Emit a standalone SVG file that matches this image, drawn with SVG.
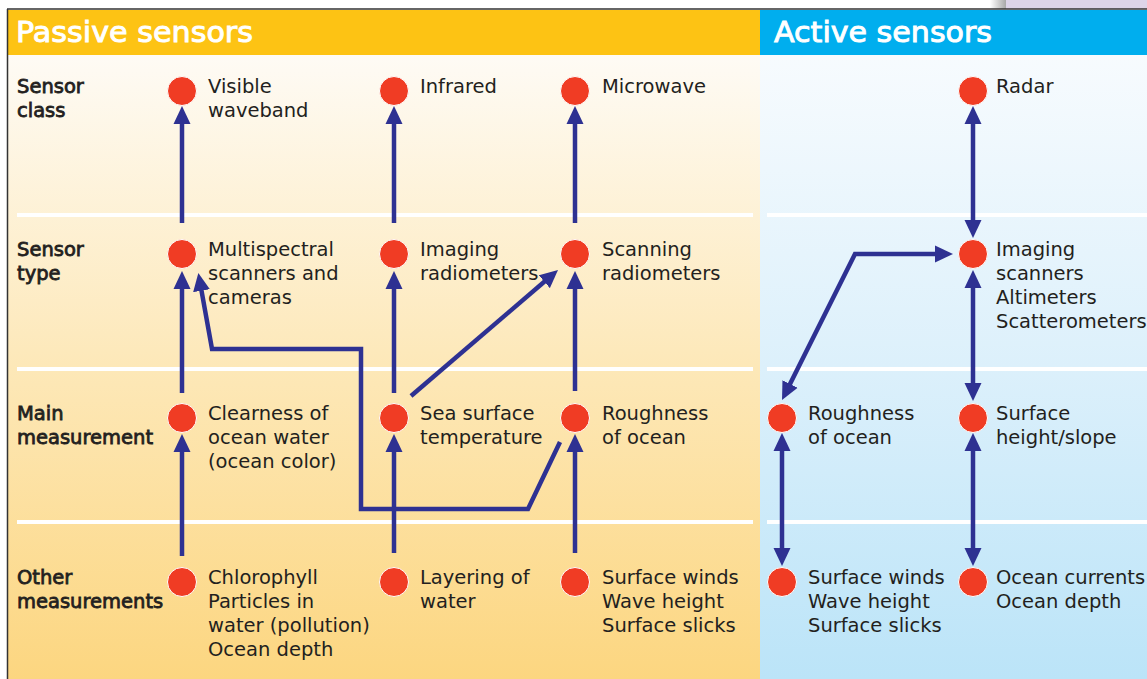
<svg xmlns="http://www.w3.org/2000/svg" width="1147" height="679" viewBox="0 0 1147 679">
<defs>
<linearGradient id="gp" x1="0" y1="0" x2="0" y2="1">
<stop offset="0" stop-color="#fefbf5"/>
<stop offset="0.5" stop-color="#fde8b8"/>
<stop offset="1" stop-color="#fcd680"/>
</linearGradient>
<linearGradient id="ga" x1="0" y1="0" x2="0" y2="1">
<stop offset="0" stop-color="#f7fbfe"/>
<stop offset="0.5" stop-color="#dcf0fb"/>
<stop offset="1" stop-color="#bbe4f8"/>
</linearGradient>
<linearGradient id="gg" x1="0" y1="0" x2="1" y2="0">
<stop offset="0" stop-color="#ffffff"/>
<stop offset="1" stop-color="#a8a8a8"/>
</linearGradient>
<marker id="ah" markerUnits="userSpaceOnUse" markerWidth="18" markerHeight="18" viewBox="0 0 18 18" refX="8" refY="9" orient="auto-start-reverse">
<path d="M0,0.5 L18,9 L0,17.5 z" fill="#2e3192"/>
</marker>
<style>
.t{font-family:"DejaVu Sans",Verdana,sans-serif;font-size:19.5px;fill:#231f20}
.rl{font-family:"DejaVu Sans",Verdana,sans-serif;font-size:19.5px;fill:#231f20;stroke:#231f20;stroke-width:0.8}
.h{font-family:"DejaVu Sans",Verdana,sans-serif;font-size:28px;fill:#ffffff;stroke:#ffffff;stroke-width:0.9}
.c{fill:#f03c24;stroke:#ffffff;stroke-width:1}
.sep{stroke:#ffffff;stroke-width:4}
.ln{fill:none;stroke:#2e3192;stroke-width:4.5;stroke-linejoin:miter}
.ar{marker-end:url(#ah)}
.ar2{marker-start:url(#ah);marker-end:url(#ah)}
</style>
</defs>
<rect x="0" y="0" width="1147" height="679" fill="#ffffff"/>
<rect x="990" y="0" width="16" height="9" fill="url(#gg)"/>
<rect x="1006" y="0" width="141" height="9" fill="#ddd4e8"/>
<g id="background">
<rect x="8" y="55" width="752" height="624" fill="url(#gp)"/>
<rect x="760" y="55" width="387" height="624" fill="url(#ga)"/>
<rect x="8" y="10" width="752" height="45" fill="#fdc314"/>
<rect x="760" y="10" width="387" height="45" fill="#00aeee"/>
<line x1="7" y1="9" x2="1147" y2="9" stroke="#333333" stroke-width="1.5"/>
<line x1="7.5" y1="9" x2="7.5" y2="679" stroke="#333333" stroke-width="1.5"/>
<text class="h" x="16" y="42" textLength="237" lengthAdjust="spacingAndGlyphs">Passive sensors</text>
<text class="h" x="774" y="42" textLength="218" lengthAdjust="spacingAndGlyphs">Active sensors</text>
<line class="sep" x1="17" y1="215" x2="753" y2="215"/>
<line class="sep" x1="17" y1="369" x2="753" y2="369"/>
<line class="sep" x1="17" y1="522" x2="753" y2="522"/>
<line class="sep" x1="767" y1="215" x2="1147" y2="215"/>
<line class="sep" x1="767" y1="369" x2="1147" y2="369"/>
<line class="sep" x1="767" y1="522" x2="1147" y2="522"/>
</g>
<g id="row-labels">
<text class="rl" x="17" y="93">Sensor<tspan x="17" dy="24">class</tspan></text>
<text class="rl" x="17" y="256">Sensor<tspan x="17" dy="24">type</tspan></text>
<text class="rl" x="17" y="420">Main<tspan x="17" dy="24">measurement</tspan></text>
<text class="rl" x="17" y="584">Other<tspan x="17" dy="24">measurements</tspan></text>
</g>
<g id="connectors">
<line class="ln ar" x1="182" y1="223" x2="182" y2="116"/>
<line class="ln ar" x1="394" y1="223" x2="394" y2="116"/>
<line class="ln ar" x1="575" y1="223" x2="575" y2="116"/>
<line class="ln ar" x1="182" y1="393" x2="182" y2="281"/>
<line class="ln ar" x1="394" y1="393" x2="394" y2="281"/>
<line class="ln ar" x1="575" y1="391" x2="575" y2="281"/>
<line class="ln ar" x1="182" y1="556" x2="182" y2="444"/>
<line class="ln ar" x1="394" y1="553" x2="394" y2="444"/>
<line class="ln ar" x1="575" y1="553" x2="575" y2="444"/>
<line class="ln ar" x1="411" y1="396" x2="550.4" y2="276.5"/>
<polyline class="ln ar" points="560,442 528,509 361,509 361,349 212,349 200.1,282.8"/>
<line class="ln ar2" x1="973" y1="116" x2="973" y2="228"/>
<line class="ln ar2" x1="973" y1="280" x2="973" y2="391"/>
<polyline class="ln ar2" points="786.5,391.1 855,254 943,254"/>
<line class="ln ar2" x1="782" y1="443" x2="782" y2="556"/>
<line class="ln ar2" x1="973" y1="443" x2="973" y2="556"/>
</g>
<g id="n-visible"><circle class="c" cx="182" cy="91" r="14.5"/><text class="t" x="208" y="93">Visible<tspan x="208" dy="24">waveband</tspan></text></g>
<g id="n-infrared"><circle class="c" cx="394" cy="91" r="14.5"/><text class="t" x="420" y="93">Infrared</text></g>
<g id="n-microwave"><circle class="c" cx="575" cy="91" r="14.5"/><text class="t" x="602" y="93">Microwave</text></g>
<g id="n-radar"><circle class="c" cx="973" cy="91" r="14.5"/><text class="t" x="996" y="93">Radar</text></g>
<g id="n-multispectral"><circle class="c" cx="182" cy="254" r="14.5"/><text class="t" x="208" y="256">Multispectral<tspan x="208" dy="24">scanners and</tspan><tspan x="208" dy="24">cameras</tspan></text></g>
<g id="n-imaging-radiometers"><circle class="c" cx="394" cy="254" r="14.5"/><text class="t" x="420" y="256">Imaging<tspan x="420" dy="24">radiometers</tspan></text></g>
<g id="n-scanning-radiometers"><circle class="c" cx="575" cy="254" r="14.5"/><text class="t" x="602" y="256">Scanning<tspan x="602" dy="24">radiometers</tspan></text></g>
<g id="n-imaging-scanners"><circle class="c" cx="973" cy="254" r="14.5"/><text class="t" x="996" y="256">Imaging<tspan x="996" dy="24">scanners</tspan><tspan x="996" dy="24">Altimeters</tspan><tspan x="996" dy="24">Scatterometers</tspan></text></g>
<g id="n-clearness"><circle class="c" cx="182" cy="418" r="14.5"/><text class="t" x="208" y="420">Clearness of<tspan x="208" dy="24">ocean water</tspan><tspan x="208" dy="24">(ocean color)</tspan></text></g>
<g id="n-sst"><circle class="c" cx="394" cy="418" r="14.5"/><text class="t" x="420" y="420">Sea surface<tspan x="420" dy="24">temperature</tspan></text></g>
<g id="n-roughness-passive"><circle class="c" cx="575" cy="418" r="14.5"/><text class="t" x="602" y="420">Roughness<tspan x="602" dy="24">of ocean</tspan></text></g>
<g id="n-roughness-active"><circle class="c" cx="782" cy="418" r="14.5"/><text class="t" x="808" y="420">Roughness<tspan x="808" dy="24">of ocean</tspan></text></g>
<g id="n-surface-height"><circle class="c" cx="973" cy="418" r="14.5"/><text class="t" x="996" y="420">Surface<tspan x="996" dy="24">height/slope</tspan></text></g>
<g id="n-chlorophyll"><circle class="c" cx="182" cy="582" r="14.5"/><text class="t" x="208" y="584">Chlorophyll<tspan x="208" dy="24">Particles in</tspan><tspan x="208" dy="24">water (pollution)</tspan><tspan x="208" dy="24">Ocean depth</tspan></text></g>
<g id="n-layering"><circle class="c" cx="394" cy="582" r="14.5"/><text class="t" x="420" y="584">Layering of<tspan x="420" dy="24">water</tspan></text></g>
<g id="n-winds-passive"><circle class="c" cx="575" cy="582" r="14.5"/><text class="t" x="602" y="584">Surface winds<tspan x="602" dy="24">Wave height</tspan><tspan x="602" dy="24">Surface slicks</tspan></text></g>
<g id="n-winds-active"><circle class="c" cx="782" cy="582" r="14.5"/><text class="t" x="808" y="584">Surface winds<tspan x="808" dy="24">Wave height</tspan><tspan x="808" dy="24">Surface slicks</tspan></text></g>
<g id="n-currents"><circle class="c" cx="973" cy="582" r="14.5"/><text class="t" x="996" y="584">Ocean currents<tspan x="996" dy="24">Ocean depth</tspan></text></g>
</svg>
